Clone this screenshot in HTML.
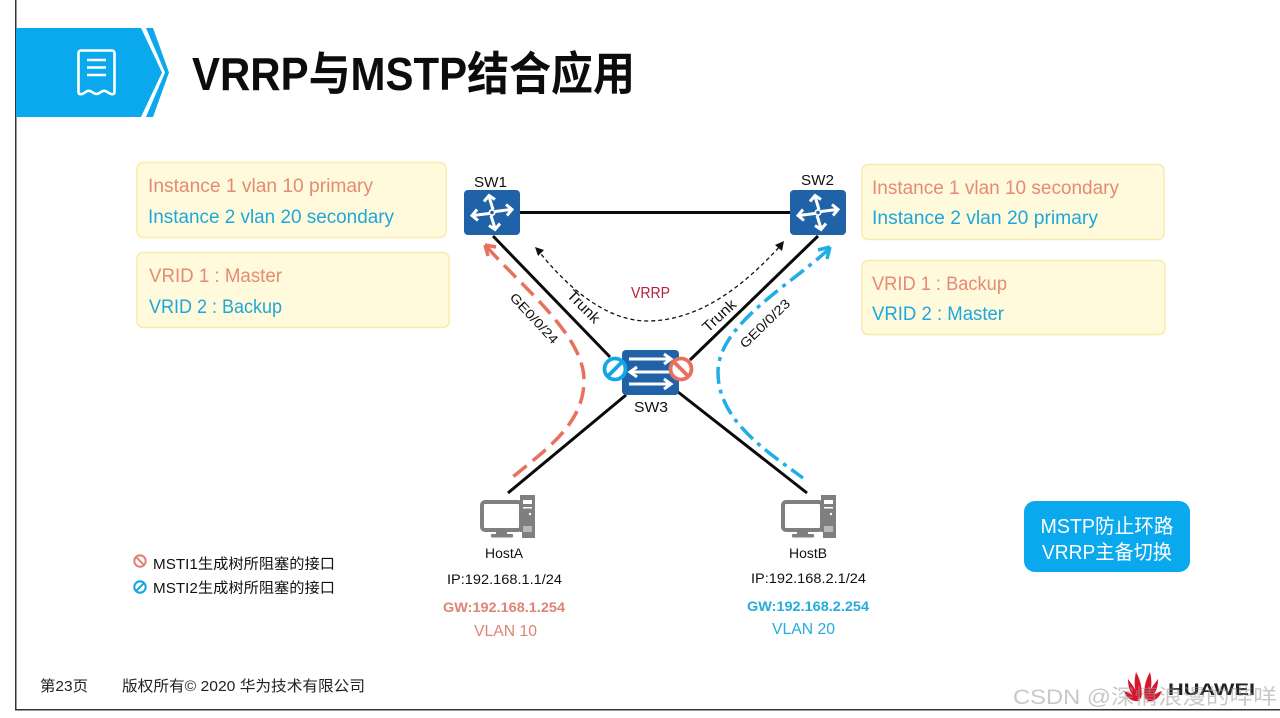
<!DOCTYPE html>
<html><head><meta charset="utf-8"><style>
html,body{margin:0;padding:0;background:#fff;width:1280px;height:718px;overflow:hidden}
svg{display:block}
text{font-family:"Liberation Sans","Noto Sans CJK SC",sans-serif}
</style></head><body>
<svg width="1280" height="718" viewBox="0 0 1280 718">
<defs>
<g id="ar"><g fill="none" stroke="#fff" stroke-width="3" stroke-linejoin="miter">
<path d="M1 -3 L-3 -16 M-8 -11 L-3 -17 L3 -13"/>
<path d="M3 -1 L19 -3 M14 -8 L20 -3 L15 3"/>
<path d="M-1 3 L3 16 M8 11 L3 17 L-3 13"/>
<path d="M-3 1 L-19 3 M-14 8 L-20 3 L-15 -3"/>
</g><circle r="3.500" fill="#fff"/><circle r="1.800" fill="#1f62a8"/></g>
<g id="pc">
<path d="M40 0h15v43h-13v-6h-2z" fill="#7f7f7f"/>
<rect x="43" y="5" width="9" height="4" fill="#fff"/><rect x="43" y="12" width="9" height="1.500" fill="#fff"/>
<circle cx="50" cy="19" r="1.200" fill="#fff"/>
<path d="M43 31h9v6h-9z" fill="#b8b8b8"/>
<rect x="2" y="7" width="39" height="28" rx="3" fill="#fff" stroke="#7f7f7f" stroke-width="4"/>
<rect x="16" y="36" width="11" height="3" fill="#7f7f7f"/>
<rect x="11" y="39" width="22" height="3.500" rx="1" fill="#7f7f7f"/>
</g>
<g id="ban"><circle r="10.500" fill="#fff" stroke-width="3.800"/><line x1="-7.500" y1="-7.500" x2="7.500" y2="7.500" stroke-width="3.800"/></g>
<g id="ban2"><circle r="10.500" fill="#fff" stroke-width="3.800"/><line x1="-7.500" y1="7.500" x2="7.500" y2="-7.500" stroke-width="3.800"/></g>
</defs>

<rect x="15" y="0" width="1.500" height="710" fill="#333"/>
<rect x="15" y="709" width="1265" height="1.500" fill="#333"/>

<polygon points="16,28 141,28 162,72.500 141,117 16,117" fill="#0aa9ee"/>
<polygon points="146,28 153,28 169,72.500 153,117 146,117 165,72.500" fill="#0aa9ee"/>
<g fill="none" stroke="#fff" stroke-width="2.600">
<path d="M78.500 92V53a2.500 2.500 0 0 1 2.500-2.500h31a2.500 2.500 0 0 1 2.500 2.500V92c0 2-1.500 2.500-3.500 2c-4-1-4.500-4-8-3c-3 1-3.500 3-6.500 3s-3.500-2-6.500-3c-3.500-1-4.500 2-8 3c-2 .5-3.500 0-3.500-2z"/>
<path d="M87 60h19M87 67.500h19M87 75h19"/>
</g>
<text x="192" y="90" font-size="46" font-weight="700" fill="#0c0c0c" textLength="443" lengthAdjust="spacingAndGlyphs">VRRP与MSTP结合应用</text>

<g fill="#fffadb" stroke="#f8e9ae" stroke-width="1.500">
<rect x="137" y="162.500" width="309" height="75" rx="6"/>
<rect x="137" y="252.500" width="312" height="75" rx="6"/>
<rect x="862" y="164.500" width="302" height="75" rx="6"/>
<rect x="862" y="260.500" width="303" height="74" rx="6"/>
</g>
<g font-size="19">
<text x="148" y="192" fill="#e58a75" textLength="225" lengthAdjust="spacingAndGlyphs">Instance 1 vlan 10 primary</text>
<text x="148" y="223" fill="#1ea7dc" textLength="246" lengthAdjust="spacingAndGlyphs">Instance 2 vlan 20 secondary</text>
<text x="149" y="282" fill="#e58a75" textLength="133" lengthAdjust="spacingAndGlyphs">VRID 1 : Master</text>
<text x="149" y="313" fill="#1ea7dc" textLength="133" lengthAdjust="spacingAndGlyphs">VRID 2 : Backup</text>
<text x="872" y="194" fill="#e58a75" textLength="247" lengthAdjust="spacingAndGlyphs">Instance 1 vlan 10 secondary</text>
<text x="872" y="224" fill="#1ea7dc" textLength="226" lengthAdjust="spacingAndGlyphs">Instance 2 vlan 20 primary</text>
<text x="872" y="290" fill="#e58a75" textLength="135" lengthAdjust="spacingAndGlyphs">VRID 1 : Backup</text>
<text x="872" y="320" fill="#1ea7dc" textLength="132" lengthAdjust="spacingAndGlyphs">VRID 2 : Master</text>
</g>

<g stroke="#0a0a0a" stroke-width="3" fill="none">
<line x1="520" y1="212.500" x2="790" y2="212.500"/>
<line x1="493" y1="236" x2="610" y2="357"/>
<line x1="818" y1="236" x2="690" y2="360"/>
<line x1="626" y1="395" x2="508" y2="493"/>
<line x1="678" y1="392" x2="807" y2="493"/>
</g>

<path d="M487 247C520 285 584 335 584 380C584 425 545 450 508 481" fill="none" stroke="#e8705f" stroke-width="3.500" stroke-dasharray="17 8"/>
<path d="M485 245l11 2M485 245l3 11" stroke="#e8705f" stroke-width="3.500" fill="none"/>
<path d="M829 249C790 285 718 325 718 372C718 420 765 450 803 478" fill="none" stroke="#1faee6" stroke-width="3.500" stroke-dasharray="17 6 4 6"/>
<path d="M830 247l-12 3M830 247l-3 12" stroke="#1faee6" stroke-width="3.500" fill="none"/>
<path d="M537 249C565 285 605 321 647 321C700 321 745 285 782 244" fill="none" stroke="#111" stroke-width="1.300" stroke-dasharray="4 3"/>
<polygon points="535,247 544,250 538,256" fill="#111"/>
<polygon points="784,241 782,251 775,245" fill="#111"/>

<rect x="464" y="190" width="56" height="45" rx="4" fill="#1f62a8"/>
<rect x="790" y="190" width="56" height="45" rx="4" fill="#1f62a8"/>
<use href="#ar" x="492" y="212.500"/>
<use href="#ar" x="818" y="212.500"/>
<rect x="622" y="350" width="57" height="45" rx="4" fill="#1f62a8"/>
<g fill="none" stroke="#fff" stroke-width="3">
<path d="M629 359h42M664 354l7 5-7 5"/>
<path d="M672 372h-42M637 367l-7 5 7 5"/>
<path d="M629 384h42M664 379l7 5-7 5"/>
</g>
<use href="#ban2" x="615" y="369" stroke="#12a7e2"/>
<use href="#ban" x="681" y="369" stroke="#e8705f"/>

<use href="#pc" x="480" y="495"/>
<use href="#pc" x="781" y="495"/>

<g fill="#111" font-size="14.500">
<text x="474" y="187" textLength="33" lengthAdjust="spacingAndGlyphs">SW1</text>
<text x="801" y="185" textLength="33" lengthAdjust="spacingAndGlyphs">SW2</text>
<text x="634" y="412" textLength="34" lengthAdjust="spacingAndGlyphs">SW3</text>
<text transform="translate(566,296) rotate(45)" font-size="15" textLength="40" lengthAdjust="spacingAndGlyphs">Trunk</text>
<text transform="translate(708,333) rotate(-43)" font-size="15" textLength="40" lengthAdjust="spacingAndGlyphs">Trunk</text>
<text transform="translate(509,298) rotate(47)" font-size="13" textLength="64" lengthAdjust="spacingAndGlyphs">GE0/0/24</text>
<text transform="translate(745,349) rotate(-44)" font-size="13" textLength="64" lengthAdjust="spacingAndGlyphs">GE0/0/23</text>
</g>
<text x="631" y="298" font-size="15.500" fill="#b2203a" textLength="39" lengthAdjust="spacingAndGlyphs">VRRP</text>

<g font-size="13.500" fill="#111">
<text x="485" y="558" textLength="38" lengthAdjust="spacingAndGlyphs">HostA</text>
<text x="447" y="584" textLength="115" lengthAdjust="spacingAndGlyphs">IP:192.168.1.1/24</text>
<text x="789" y="558" textLength="38" lengthAdjust="spacingAndGlyphs">HostB</text>
<text x="751" y="583" textLength="115" lengthAdjust="spacingAndGlyphs">IP:192.168.2.1/24</text>
</g>
<text x="443" y="612" font-size="13.500" font-weight="700" fill="#dd8474" textLength="122" lengthAdjust="spacingAndGlyphs">GW:192.168.1.254</text>
<text x="747" y="611" font-size="13.500" font-weight="700" fill="#26abdc" textLength="122" lengthAdjust="spacingAndGlyphs">GW:192.168.2.254</text>
<text x="474" y="636" font-size="15.500" fill="#dd8474" textLength="63" lengthAdjust="spacingAndGlyphs">VLAN 10</text>
<text x="772" y="634" font-size="15.500" fill="#26abdc" textLength="63" lengthAdjust="spacingAndGlyphs">VLAN 20</text>

<g transform="translate(140,561) scale(.54)"><use href="#ban" stroke="#df8378"/></g>
<g transform="translate(140,587) scale(.54)"><use href="#ban2" stroke="#12a7e2"/></g>
<text x="153" y="569" font-size="14.500" fill="#111" textLength="182" lengthAdjust="spacingAndGlyphs">MSTI1生成树所阻塞的接口</text>
<text x="153" y="593" font-size="14.500" fill="#111" textLength="182" lengthAdjust="spacingAndGlyphs">MSTI2生成树所阻塞的接口</text>

<rect x="1024" y="501" width="166" height="71" rx="11" fill="#0aa9ee"/>
<text x="1107" y="533" font-size="20" fill="#fff" text-anchor="middle" textLength="133" lengthAdjust="spacingAndGlyphs">MSTP防止环路</text>
<text x="1107" y="559" font-size="20" fill="#fff" text-anchor="middle" textLength="130" lengthAdjust="spacingAndGlyphs">VRRP主备切换</text>

<text x="40" y="691" font-size="15" fill="#222" textLength="48" lengthAdjust="spacingAndGlyphs">第23页</text>
<text x="122" y="691" font-size="15" fill="#222" textLength="243" lengthAdjust="spacingAndGlyphs">版权所有© 2020 华为技术有限公司</text>

<g fill="#d9142b" transform="translate(1143,699)">
<path d="M-2 0C-8 -6 -10 -14 -7 -27C-2 -18 0 -8 -2 0z"/>
<path d="M2 0C8 -6 10 -14 7 -27C2 -18 0 -8 2 0z"/>
<path d="M-3 1C-11 -2 -15 -9 -15 -20C-10 -13 -4 -6 -3 1z"/>
<path d="M3 1C11 -2 15 -9 15 -20C10 -13 4 -6 3 1z"/>
<path d="M-4 2C-10 3 -16 0 -19 -8C-13 -6 -7 -3 -4 2z"/>
<path d="M4 2C10 3 16 0 19 -8C13 -6 7 -3 4 2z"/>
</g>
<text x="1168" y="695" font-size="17" font-weight="700" fill="#222" textLength="87" lengthAdjust="spacingAndGlyphs">HUAWEI</text>
<text x="1013" y="704" font-size="21" fill="#9a9a9a" fill-opacity=".55" textLength="264" lengthAdjust="spacingAndGlyphs">CSDN @深情浪漫的哔咩</text>
</svg>
</body></html>
